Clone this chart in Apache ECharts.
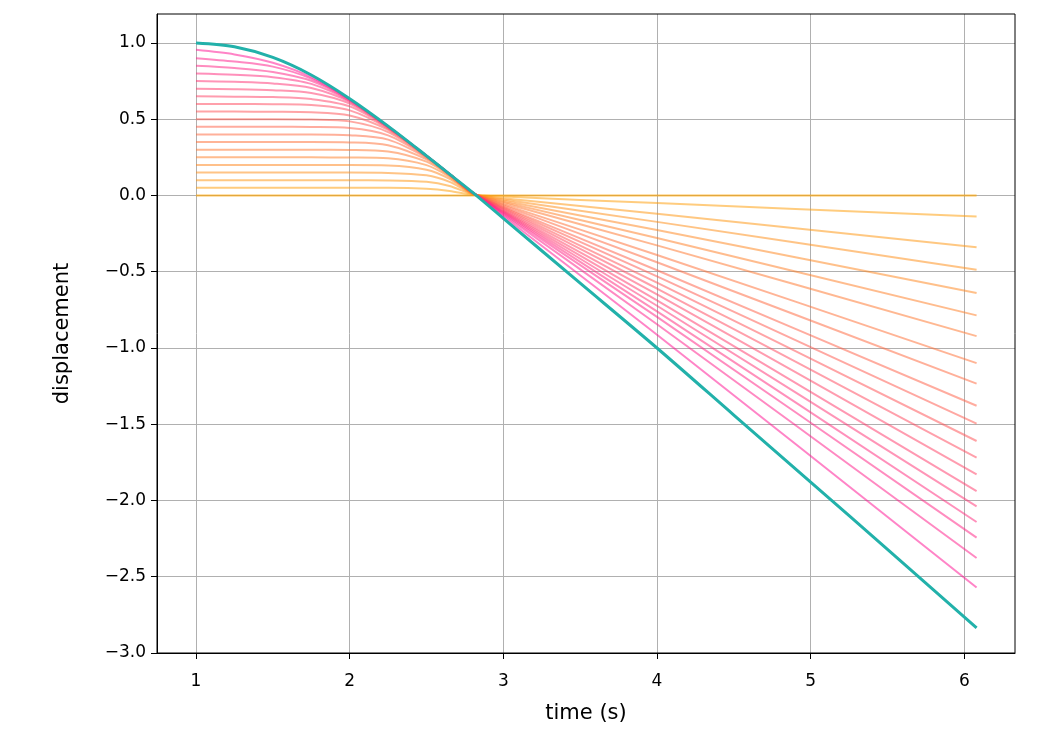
<!DOCTYPE html>
<html>
<head>
<meta charset="utf-8">
<script src="https://cdn.jsdelivr.net/npm/echarts@6/dist/echarts.min.js"></script>
<style>
  html, body { margin: 0; padding: 0; background: #fff; }
  #chart { width: 1054px; height: 729px; }
</style>
</head>
<body>
<div id="chart"></div>
<script>
// ---- data ----
var xTicks = [1, 2, 3, 4, 5, 6];
var yTicks = [-3, -2.5, -2, -1.5, -1, -0.5, 0, 0.5, 1];

// sample times for the fan of intermediate curves
var fanTimes = [1, 1.25, 1.5, 1.75, 2, 2.25, 2.5, 2.65, 2.8, 3, 4, 6.08];

var curve00 = [0, 0, 0, 0, 0, 0, 0, 0, 0, 0, 0, 0];
var curve01 = [0.05, 0.05, 0.05, 0.05, 0.05, 0.05, 0.044, 0.03, 0.005, -0.007, -0.05, -0.138];
var curve02 = [0.10, 0.10, 0.10, 0.10, 0.10, 0.099, 0.09, 0.062, 0.008, -0.018, -0.12, -0.339];
var curve03 = [0.15, 0.15, 0.15, 0.15, 0.15, 0.148, 0.132, 0.089, 0.01, -0.026, -0.173, -0.487];
var curve04 = [0.20, 0.20, 0.20, 0.20, 0.20, 0.197, 0.169, 0.109, 0.012, -0.034, -0.227, -0.640];
var curve05 = [0.25, 0.25, 0.25, 0.25, 0.249, 0.244, 0.199, 0.122, 0.013, -0.042, -0.279, -0.786];
var curve06 = [0.30, 0.30, 0.30, 0.30, 0.299, 0.289, 0.222, 0.13, 0.014, -0.049, -0.327, -0.922];
var curve07 = [0.35, 0.35, 0.35, 0.35, 0.348, 0.33, 0.237, 0.134, 0.015, -0.058, -0.39, -1.099];
var curve08 = [0.40, 0.40, 0.40, 0.40, 0.395, 0.366, 0.247, 0.137, 0.016, -0.065, -0.438, -1.234];
var curve09 = [0.45, 0.45, 0.45, 0.449, 0.442, 0.394, 0.253, 0.138, 0.017, -0.073, -0.49, -1.379];
var curve10 = [0.50, 0.50, 0.50, 0.498, 0.486, 0.416, 0.256, 0.139, 0.018, -0.079, -0.531, -1.496];
var curve11 = [0.55, 0.55, 0.549, 0.546, 0.525, 0.43, 0.258, 0.14, 0.018, -0.085, -0.572, -1.610];
var curve12 = [0.60, 0.60, 0.598, 0.593, 0.558, 0.439, 0.259, 0.14, 0.019, -0.091, -0.61, -1.719];
var curve13 = [0.65, 0.648, 0.645, 0.632, 0.584, 0.444, 0.26, 0.14, 0.019, -0.097, -0.649, -1.828];
var curve14 = [0.70, 0.697, 0.69, 0.672, 0.602, 0.447, 0.26, 0.14, 0.019, -0.103, -0.688, -1.938];
var curve15 = [0.75, 0.745, 0.735, 0.705, 0.614, 0.449, 0.26, 0.14, 0.02, -0.108, -0.723, -2.038];
var curve16 = [0.80, 0.792, 0.776, 0.732, 0.621, 0.451, 0.26, 0.14, 0.02, -0.113, -0.76, -2.141];
var curve17 = [0.85, 0.836, 0.81, 0.752, 0.626, 0.452, 0.26, 0.14, 0.02, -0.119, -0.796, -2.243];
var curve18 = [0.90, 0.878, 0.845, 0.766, 0.629, 0.453, 0.26, 0.14, 0.02, -0.126, -0.844, -2.377];
var curve19 = [0.955, 0.925, 0.87, 0.776, 0.631, 0.454, 0.26, 0.14, 0.02, -0.136, -0.913, -2.571];

// final (teal) curve
var finalTimes = [1, 1.25, 1.5, 1.75, 2, 2.25, 2.5, 2.65, 2.8, 3, 3.5, 4, 4.5, 5, 5.5, 6.08];
var finalCurve = [1.0, 0.975, 0.905, 0.79, 0.635, 0.455, 0.26, 0.14, 0.02, -0.15, -0.575, -1.0, -1.44, -1.88, -2.32, -2.835];

// ---- build chart ----
var fanCurves = [curve00, curve01, curve02, curve03, curve04, curve05, curve06, curve07, curve08, curve09,
                 curve10, curve11, curve12, curve13, curve14, curve15, curve16, curve17, curve18, curve19];

function fanColor(i, n) {
  var f = n > 1 ? i / (n - 1) : 0;
  var r = 255;
  var g = Math.round(165 + (20 - 165) * f);
  var b = Math.round(0 + (147 - 0) * f);
  var a = i === 0 ? 0.65 : 0.52;
  return 'rgba(' + r + ',' + g + ',' + b + ',' + a + ')';
}

var series = [];
fanCurves.forEach(function (vals, i) {
  series.push({
    type: 'line',
    data: fanTimes.map(function (t, j) { return [t, vals[j]]; }),
    showSymbol: false,
    smooth: 0.3,
    silent: true,
    lineStyle: { width: 2, color: fanColor(i, fanCurves.length) },
    z: 2
  });
});
series.push({
  type: 'line',
  data: finalTimes.map(function (t, j) { return [t, finalCurve[j]]; }),
  showSymbol: false,
  smooth: 0.3,
  silent: true,
  lineStyle: { width: 3, color: '#22b1aa' },
  z: 3
});

var font = 'DejaVu Sans';
var chart = echarts.init(document.getElementById('chart'), null, { renderer: 'canvas' });
chart.setOption({
  animation: false,
  backgroundColor: '#ffffff',
  grid: {
    left: 157, right: 39, top: 14, bottom: 76,
    show: true, borderColor: '#000', borderWidth: 1, backgroundColor: 'transparent', z: 10
  },
  xAxis: {
    type: 'value',
    min: 0.746, max: 6.33,
    name: 'time (s)',
    nameLocation: 'middle',
    nameGap: 50,
    nameTextStyle: { fontFamily: font, fontSize: 21, color: '#000' },
    axisLine: { show: true, onZero: false, lineStyle: { color: '#000', width: 1 } },
    axisTick: { show: true, length: 6, customValues: xTicks, lineStyle: { color: '#000' } },
    axisLabel: { customValues: xTicks, fontFamily: font, fontSize: 17, color: '#000', margin: 20,
                 formatter: function (v) { return String(v); } },
    splitLine: { show: true, lineStyle: { color: '#b0b0b0', width: 1 } }
  },
  yAxis: {
    type: 'value',
    min: -3.0, max: 1.19,
    name: 'displacement',
    nameLocation: 'middle',
    nameGap: 84,
    nameTextStyle: { fontFamily: font, fontSize: 21, color: '#000' },
    axisLine: { show: true, onZero: false, lineStyle: { color: '#000', width: 1 } },
    axisTick: { show: true, length: 6, customValues: yTicks, lineStyle: { color: '#000' } },
    axisLabel: { customValues: yTicks, fontFamily: font, fontSize: 17, color: '#000', margin: 11,
                 formatter: function (v) { return v.toFixed(1).replace('-', '\u2212'); } },
    splitLine: { show: true, lineStyle: { color: '#b0b0b0', width: 1 } }
  },
  series: series
});
</script>
</body>
</html>
